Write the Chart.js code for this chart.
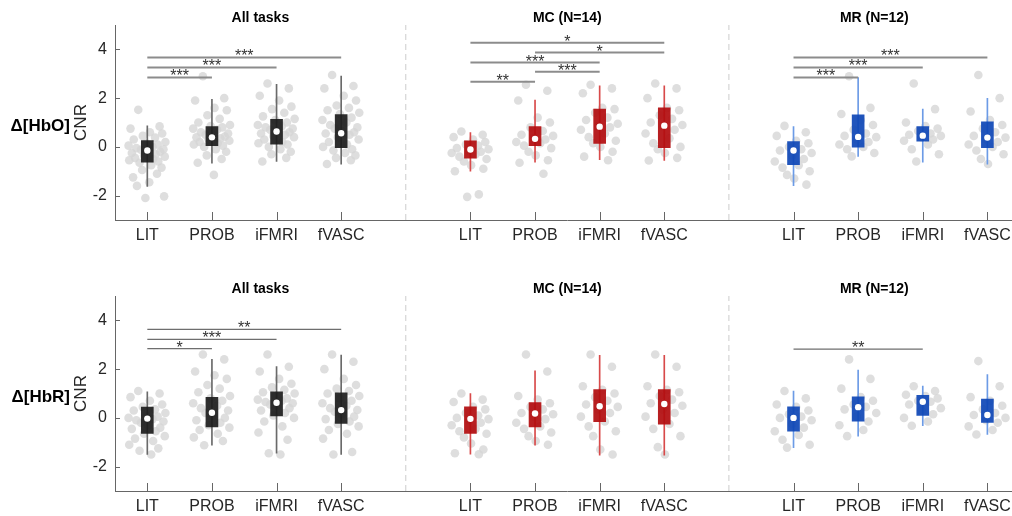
<!DOCTYPE html>
<html>
<head>
<meta charset="utf-8">
<title>CNR by task</title>
<script src="https://cdn.jsdelivr.net/npm/chart.js@4.4.1/dist/chart.umd.min.js"></script>
<style>
  html, body { margin: 0; padding: 0; background: #fff; overflow: hidden; }
  #wrap { position: relative; width: 1012px; height: 516px; overflow: hidden; }
  canvas { position: absolute; left: 0; }
  #hboChart { top: 0; }
  #hbrChart { top: 271px; }
</style>
</head>
<body>
<div id="wrap">
  <canvas id="hboChart" width="1024" height="258"></canvas>
  <canvas id="hbrChart" width="1024" height="245"></canvas>
</div>
<script>
// categories / panels
const conditions = ['LIT', 'PROB', 'iFMRI', 'fVASC'];
const panelTitles = ['All tasks', 'MC (N=14)', 'MR (N=12)'];
const groupPos = [1, 2, 3, 4, 6, 7, 8, 9, 11, 12, 13, 14];
const panelEdges = [0.5, 5, 10, 14.5];
const yTicks = [-2, 0, 2, 4];

// horizontal spread of the dots around each box
const jitter = [-0.14, 0.19, -0.26, 0.04, 0.23, -0.07, 0.12, -0.21, 0.28, -0.02, 0.16, -0.29,
                0.08, -0.17, 0.25, -0.1, 0.01, 0.2, -0.24, 0.13, -0.05, 0.27, -0.19, 0.09,
                -0.28, 0.17, -0.12, 0.06, 0.22, -0.08, 0.15, -0.22, 0.03, -0.16, 0.26, -0.03];

// Δ[HbO] box stats (All tasks, MC, MR)
const hboQ1  = [-0.63, 0.05, 0.11, -0.03,  -0.46, 0.05, 0.14, -0.03,  -0.73, -0.01, 0.23, -0.03];
const hboMed = [-0.15, 0.39, 0.63, 0.56,   -0.11, 0.33, 0.83, 0.87,   -0.15, 0.41, 0.46, 0.38];
const hboQ3  = [0.26, 0.83, 1.13, 1.33,    0.25, 0.83, 1.55, 1.6,     0.22, 1.31, 0.83, 1.03];
const hboLo  = [-1.62, -0.67, -0.6, -0.71, -1.0, -0.63, -0.53, -0.56, -1.59, -0.39, -0.63, -0.71];
const hboHi  = [0.86, 1.95, 2.57, 2.9,     0.59, 1.92, 2.5, 2.5,      0.83, 2.84, 1.55, 1.99];

const hboPoints = [
  [1.52, 0.84, 0.75, 0.6, 0.55, 0.45, 0.38, 0.3, 0.2, 0.15, 0.1, 0.05, 0, -0.05, -0.1, -0.12, -0.15, -0.2,
   -0.25, -0.3, -0.35, -0.4, -0.45, -0.5, -0.55, -0.6, -0.65, -0.75, -0.85, -0.95, -1.1, -1.25, -1.45, -1.6, -2.03, -2.1],
  [2.9, 2.0, 1.9, 1.6, 1.5, 1.3, 1.15, 1.0, 0.9, 0.85, 0.8, 0.75, 0.7, 0.6, 0.55, 0.5, 0.45, 0.42, 0.39,
   0.35, 0.3, 0.25, 0.2, 0.15, 0.1, 0.05, 0.0, -0.1, -0.2, -0.35, -0.5, -0.65, -1.15],
  [2.6, 2.4, 2.1, 1.9, 1.65, 1.55, 1.4, 1.25, 1.15, 1.1, 1.0, 0.9, 0.85, 0.8, 0.75, 0.7, 0.65, 0.6, 0.55,
   0.5, 0.45, 0.4, 0.3, 0.2, 0.15, 0.1, 0.0, -0.1, -0.2, -0.3, -0.45, -0.6],
  [2.95, 2.5, 2.4, 2.1, 1.9, 1.7, 1.6, 1.5, 1.4, 1.35, 1.2, 1.1, 1.0, 0.9, 0.8, 0.75, 0.65, 0.6, 0.55,
   0.5, 0.4, 0.3, 0.2, 0.1, 0.0, -0.1, -0.15, -0.25, -0.35, -0.45, -0.55, -0.7],
  [0.63, 0.5, 0.4, 0.3, 0.2, 0.1, 0.05, -0.05, -0.1, -0.15, -0.2, -0.25, -0.3, -0.4, -0.5, -0.6, -0.75, -0.9, -1.0, -1.95, -2.05],
  [2.55, 2.3, 1.9, 1.2, 1.0, 0.8, 0.65, 0.5, 0.45, 0.35, 0.3, 0.2, 0.15, 0.05, -0.05, -0.2, -0.35, -0.55, -0.65, -1.1],
  [2.55, 2.4, 2.2, 1.6, 1.55, 1.4, 1.2, 1.1, 0.95, 0.85, 0.8, 0.7, 0.55, 0.4, 0.25, 0.15, 0.0, -0.2, -0.4, -0.55],
  [2.6, 2.4, 2.0, 1.6, 1.5, 1.3, 1.15, 1.0, 0.9, 0.85, 0.7, 0.55, 0.35, 0.15, 0.0, -0.1, -0.25, -0.45, -0.56],
  [0.86, 0.6, 0.45, 0.25, 0.15, 0.0, -0.1, -0.15, -0.25, -0.35, -0.5, -0.6, -0.75, -0.85, -1.0, -1.15, -1.3, -1.55],
  [2.9, 1.6, 1.35, 1.1, 0.9, 0.7, 0.55, 0.45, 0.4, 0.3, 0.2, 0.1, 0.0, -0.1, -0.25, -0.39],
  [2.6, 1.55, 1.0, 0.85, 0.75, 0.65, 0.55, 0.5, 0.45, 0.4, 0.3, 0.25, 0.1, -0.1, -0.3, -0.6],
  [2.95, 2.0, 1.45, 1.1, 0.9, 0.75, 0.6, 0.45, 0.38, 0.3, 0.2, 0.1, 0.0, -0.15, -0.3, -0.5, -0.7]
];

// significance bars: [from, to, height, stars]
const hboSig = [
  [1, 2, 2.85, '***'], [1, 3, 3.26, '***'], [1, 4, 3.67, '***'],
  [6, 7, 2.67, '**'], [7, 8, 3.08, '***'], [6, 8, 3.46, '***'], [7, 9, 3.87, '*'], [6, 9, 4.27, '*'],
  [11, 12, 2.85, '***'], [11, 13, 3.26, '***'], [11, 14, 3.67, '***']
];

// Δ[HbR] box stats
const hbrQ1  = [-0.64, -0.37, 0.08, -0.23,  -0.64, -0.37, -0.16, -0.26,  -0.55, -0.14, 0.1, -0.19];
const hbrMed = [-0.03, 0.21, 0.62, 0.32,    -0.04, 0.18, 0.48, 0.57,     0.0, 0.44, 0.66, 0.12];
const hbrQ3  = [0.44, 0.84, 1.07, 1.03,     0.45, 0.63, 1.16, 1.16,      0.45, 0.86, 0.92, 0.77];
const hbrLo  = [-1.5, -1.12, -1.45, -1.5,   -1.49, -1.12, -1.53, -1.53,  -1.22, -0.75, -0.32, -0.68];
const hbrHi  = [1.07, 2.4, 2.1, 2.58,       1.0, 1.93, 2.57, 2.57,       1.1, 1.96, 1.3, 1.78];

const hbrPoints = [
  [1.1, 1.0, 0.85, 0.7, 0.55, 0.45, 0.35, 0.3, 0.2, 0.1, 0.05, 0.0, -0.05, -0.1, -0.15, -0.2, -0.3, -0.4,
   -0.45, -0.55, -0.65, -0.75, -0.85, -0.95, -1.1, -1.25, -1.35, -1.5],
  [2.6, 2.4, 1.9, 1.75, 1.6, 1.35, 1.2, 1.05, 0.9, 0.8, 0.7, 0.6, 0.5, 0.4, 0.3, 0.2, 0.1, 0.0, -0.1,
   -0.2, -0.3, -0.4, -0.5, -0.65, -0.8, -0.95, -1.12],
  [2.6, 2.1, 1.9, 1.6, 1.4, 1.25, 1.15, 1.05, 1.0, 0.9, 0.8, 0.75, 0.7, 0.65, 0.6, 0.55, 0.5, 0.4, 0.3,
   0.2, 0.1, 0.0, -0.15, -0.35, -0.6, -0.9, -1.45, -1.5],
  [2.6, 2.3, 2.0, 1.6, 1.35, 1.2, 1.1, 1.0, 0.9, 0.8, 0.7, 0.6, 0.5, 0.4, 0.32, 0.25, 0.15, 0.05, -0.05,
   -0.15, -0.25, -0.35, -0.5, -0.65, -0.85, -1.4, -1.5],
  [1.0, 0.75, 0.65, 0.45, 0.35, 0.2, 0.1, 0.0, -0.05, -0.1, -0.2, -0.3, -0.45, -0.55, -0.65, -0.8, -1.05, -1.3, -1.45, -1.49],
  [2.6, 1.9, 0.9, 0.75, 0.6, 0.45, 0.35, 0.2, 0.15, 0.05, -0.05, -0.2, -0.35, -0.45, -0.6, -0.75, -0.95, -1.1],
  [2.6, 2.1, 1.3, 1.15, 1.0, 0.85, 0.7, 0.55, 0.45, 0.35, 0.2, 0.05, -0.15, -0.35, -0.55, -0.75, -1.3, -1.5],
  [2.6, 2.1, 1.3, 1.15, 1.05, 0.9, 0.75, 0.6, 0.5, 0.35, 0.2, 0.05, -0.25, -0.45, -0.75, -1.2, -1.5],
  [1.1, 0.8, 0.55, 0.45, 0.3, 0.15, 0.05, 0.0, -0.1, -0.25, -0.4, -0.55, -0.7, -0.9, -1.1, -1.22],
  [2.4, 1.6, 1.2, 0.85, 0.7, 0.55, 0.45, 0.35, 0.2, 0.05, -0.15, -0.3, -0.5, -0.75],
  [1.3, 1.1, 0.95, 0.9, 0.8, 0.7, 0.66, 0.55, 0.4, 0.3, 0.15, 0.0, -0.15, -0.32],
  [2.33, 1.3, 0.85, 0.7, 0.5, 0.35, 0.2, 0.12, 0.0, -0.1, -0.2, -0.35, -0.5, -0.68]
];

const hbrSig = [
  [1, 2, 2.84, '*'], [1, 3, 3.22, '***'], [1, 4, 3.63, '**'],
  [11, 13, 2.82, '**']
];

// colours per panel
const boxColors = ['rgba(28,28,28,0.92)', 'rgba(178,12,14,0.92)', 'rgba(14,70,182,0.92)'];
const whiskerColors = ['#6a6a6a', '#d84a4a', '#6c9be6'];
const axisColor = '#666666';
const textColor = '#262626';

Chart.defaults.font.family = "'Liberation Sans', Arial, sans-serif";

const decorPlugin = {
    id: 'decor',
    afterDraw(chart, args, opts) {
        const { ctx, chartArea, scales: { x, y } } = chart;
        ctx.save();

        // inward tick marks
        ctx.strokeStyle = axisColor;
        ctx.lineWidth = 1;
        ctx.beginPath();
        groupPos.forEach(v => {
            const px = Math.round(x.getPixelForValue(v)) + 0.5;
            ctx.moveTo(px, chartArea.bottom);
            ctx.lineTo(px, chartArea.bottom - 8);
        });
        yTicks.forEach(v => {
            const py = Math.round(y.getPixelForValue(v)) + 0.5;
            ctx.moveTo(chartArea.left, py);
            ctx.lineTo(chartArea.left + 5, py);
        });
        ctx.stroke();

        // panel titles
        ctx.fillStyle = '#000';
        ctx.font = "bold 14px 'Liberation Sans', Arial, sans-serif";
        ctx.textAlign = 'center';
        ctx.textBaseline = 'middle';
        panelTitles.forEach((t, i) => {
            const mid = (panelEdges[i] + panelEdges[i + 1]) / 2;
            ctx.fillText(t, x.getPixelForValue(mid), chartArea.top - 7);
        });

        // significance stars
        ctx.fillStyle = '#333';
        ctx.font = "16px 'Liberation Sans', Arial, sans-serif";
        ctx.textBaseline = 'alphabetic';
        opts.sig.forEach(s => {
            const px = x.getPixelForValue((s[0] + s[1]) / 2);
            const py = y.getPixelForValue(s[2]);
            ctx.fillText(s[3], px, py + 4);
        });

        // row label and y title
        const cy = (chartArea.top + chartArea.bottom) / 2;
        ctx.fillStyle = '#000';
        ctx.font = "bold 17px 'Liberation Sans', Arial, sans-serif";
        ctx.textAlign = 'right';
        ctx.textBaseline = 'middle';
        ctx.fillText(opts.rowLabel, 70, cy + 4);

        ctx.fillStyle = textColor;
        ctx.font = "17px 'Liberation Sans', Arial, sans-serif";
        ctx.translate(81, cy);
        ctx.rotate(-Math.PI / 2);
        ctx.textAlign = 'center';
        ctx.fillText('CNR', 0, 0);
        ctx.restore();
    }
};

function buildChart(canvasId, rowLabel, q1, med, q3, lo, hi, points, sig, bracketColor, bracketWidth) {
    const canvas = document.getElementById(canvasId);
    const datasets = [];

    // separators between panels
    [panelEdges[1], panelEdges[2]].forEach(xv => {
        datasets.push({
            type: 'line',
            data: [{ x: xv, y: -3 }, { x: xv, y: 5 }],
            borderColor: '#cccccc',
            borderWidth: 1,
            borderDash: [6, 4],
            pointRadius: 0,
            order: 7
        });
    });

    // jittered dots
    const dots = [];
    points.forEach((vals, g) => {
        vals.forEach((v, i) => dots.push({ x: groupPos[g] + jitter[i % jitter.length], y: v }));
    });
    datasets.push({
        type: 'scatter',
        data: dots,
        backgroundColor: 'rgba(214,214,214,0.8)',
        borderWidth: 0,
        pointRadius: 4.3,
        order: 6
    });

    for (let p = 0; p < 3; p++) {
        const idx = [0, 1, 2, 3].map(k => p * 4 + k);
        datasets.push({
            type: 'bar',
            data: idx.map(i => ({ x: groupPos[i], y: [lo[i], hi[i]] })),
            backgroundColor: whiskerColors[p],
            barThickness: 1,
            grouped: false,
            order: 5
        });
        datasets.push({
            type: 'bar',
            data: idx.map(i => ({ x: groupPos[i], y: [q1[i], q3[i]] })),
            backgroundColor: boxColors[p],
            barThickness: 12,
            grouped: false,
            order: 4
        });
    }

    // significance brackets
    sig.forEach(s => {
        datasets.push({
            type: 'line',
            data: [{ x: s[0], y: s[2] }, { x: s[1], y: s[2] }],
            borderColor: bracketColor,
            borderWidth: bracketWidth,
            pointRadius: 0,
            order: 3
        });
    });

    // medians
    datasets.push({
        type: 'scatter',
        data: groupPos.map((xv, i) => ({ x: xv, y: med[i] })),
        backgroundColor: '#ffffff',
        borderWidth: 0,
        pointRadius: 3.2,
        order: 1
    });

    const axisHeight = canvas.height - 220;

    new Chart(canvas, {
        type: 'scatter',
        data: { datasets: datasets },
        options: {
            responsive: false,
            animation: false,
            devicePixelRatio: 1,
            layout: { padding: { left: 0, right: 2, top: 25, bottom: 0 } },
            plugins: {
                legend: { display: false },
                tooltip: { enabled: false },
                decor: { rowLabel: rowLabel, sig: sig }
            },
            scales: {
                x: {
                    type: 'linear',
                    min: panelEdges[0],
                    max: panelEdges[3],
                    offset: false,
                    grid: { display: false, drawTicks: false },
                    border: { display: true, color: axisColor, width: 1 },
                    afterBuildTicks: scale => { scale.ticks = groupPos.map(v => ({ value: v })); },
                    afterFit: scale => { scale.height = axisHeight; },
                    ticks: {
                        autoSkip: false,
                        maxRotation: 0,
                        padding: 6,
                        color: textColor,
                        font: { size: 16 },
                        callback: (v, i) => conditions[i % 4]
                    }
                },
                y: {
                    min: -3,
                    max: 5,
                    grid: { display: false, drawTicks: false },
                    border: { display: true, color: axisColor, width: 1 },
                    afterBuildTicks: scale => { scale.ticks = yTicks.map(v => ({ value: v })); },
                    afterFit: scale => { scale.width = 115; },
                    ticks: {
                        padding: 8,
                        color: textColor,
                        font: { size: 16 }
                    }
                }
            }
        },
        plugins: [decorPlugin]
    });
}

buildChart('hboChart', 'Δ[HbO]', hboQ1, hboMed, hboQ3, hboLo, hboHi, hboPoints, hboSig, '#8c8c8c', 2);
buildChart('hbrChart', 'Δ[HbR]', hbrQ1, hbrMed, hbrQ3, hbrLo, hbrHi, hbrPoints, hbrSig, '#6e6e6e', 1.2);
</script>
</body>
</html>
